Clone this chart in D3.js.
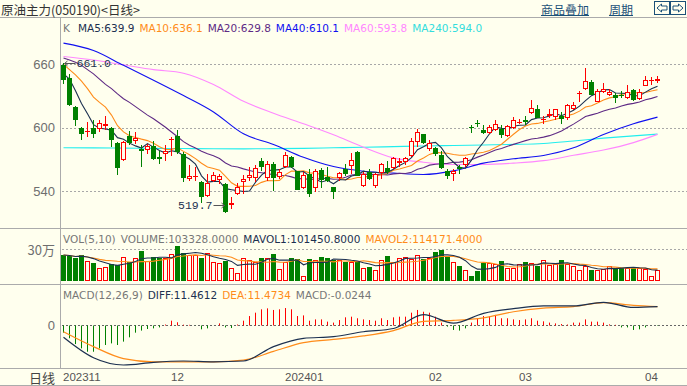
<!DOCTYPE html>
<html>
<head>
<meta charset="utf-8">
<script src="https://cdn.jsdelivr.net/npm/d3@7"></script>
<style>
  html, body { margin: 0; padding: 0; background: #FFFFEE; }
  svg { display: block; }
</style>
</head>
<body>
<svg id="chart" width="687" height="386"></svg>
<script>
// ---- data (one entry per trading day) ----
const opens  = [659,647,619.5,600,596.5,600,599,601.9,600,586, 569.8,591.8,587.7,579.5,579.2,583,572.2,574.8,588.7,591.8,
                575.4,551.8,553.3,549,535.7,550.2,550.8,547.1,526.6,537, 548.6,552.4,552.7,568.2,552.7,566,553.3,562.8,572.2,559,
                543.3,556.5,543.3,560.3,553.3,543.9,552.7,561.2,563.7,577.6, 544.8,558.7,544.8,557.5,562.2,562.2,566.6,567.5,573.8,586.4,
                594.3,580.1,580.8,574.5,559.6,556,562.8,564.4,600.9,604.7, 598.1,594.9,598.1,599,592.1,600,604.3,606.9,613.8,618,
                607.5,610.7,610,610.7,609.4,618,631.8,636.2,643.1,624.8, 633.7,631.2,631.2,630.9,628.3,635.3,627.4,639.7,644.7,644.1];
const highs  = [661,651,621,601.2,605.3,607.5,607,610.7,600.5,587, 587.6,596.8,595.6,583.9,584.8,588,578.5,584.2,591,598,
                577.6,565.3,563.4,549.3,556.5,557.8,555.9,547.7,534.4,547.7, 555.6,563.4,564.4,571.6,569.1,567.5,561.2,576.9,573.8,559.6,
                558,561.2,561.2,561.9,562.8,544.5,558.7,566,576.3,578.5, 558,560.6,557.2,566.7,569.1,572.8,571.6,572.2,590.5,599,
                594.3,588.7,581.7,578.5,561.2,561.2,564.7,572.8,603.1,606.9, 602.2,602.2,607.5,603.1,603.1,610,608.1,610.7,626.5,622,
                611.3,618,618,614.8,622.6,624.2,634.3,656.3,645.4,636.8, 642.1,636.8,632.7,634.6,640,636.8,636.8,649.4,647.8,649.4];
const lows   = [641,621,602,588.7,591,590.2,595.9,597.5,581.7,555.3, 569,584,584.8,562.8,574.8,569.7,566,569.1,573.8,575.4,
                548.6,550.2,550.2,528.8,535,548.6,547,519.7,523.5,536.4, 537,550.2,548.6,559.6,550.2,540.1,551.8,562.2,562.2,540.8,
                542.4,534.4,539.2,542.9,548.6,532.3,550.2,554,556.5,554.3, 543.9,551,542.9,551.5,556.5,561.2,563.4,564.7,572.8,582.3,
                585,578.5,573.8,561.2,551.8,550.2,556.5,563.4,594.9,601.2, 594.3,594.3,596.8,590.2,591,599,603.8,602.2,613.2,608.8,
                603.8,609.4,607.5,603.8,607.5,616.4,624.8,635.3,631,624, 632.8,630.3,623.3,628,627.4,625.2,626.5,639.1,640,642.1];
const closes = [645.4,622,607.5,594.3,597,594.3,604.7,603.8,588.7,562, 587,586.1,590.8,578.5,583,570.3,570.3,578.5,589.6,577.6,
                552.4,554.6,554,534.4,548.3,555.6,554,520.3,529.4,543.9, 551.8,555.6,562.2,563.4,566,552.7,558,574.5,563.4,541.7,
                555.6,537,559,550.8,549.5,539.2,557.2,556.5,570,554.9, 556.5,551.8,556.5,566,558.7,571.3,569.1,571.6,588,596.5,
                585.5,585.5,575.4,561.9,554.9,559.6,561.2,571.6,600,604.1, 594.9,601.2,603.8,593.4,601.9,606.9,605.7,605.3,618.9,609.4,
                608.5,613.2,617.6,608.1,621.7,622,632.7,644.1,631.2,634.6, 636.8,633.7,628.3,629.9,633.7,625.8,633.7,645.4,645.4,646.3];
const volumes = [244000,234000,212000,244000,188000,172000,125000,131000,156000,150000,
                 222000,175000,212000,281000,188000,222000,212000,212000,250000,330000,
                 266000,244000,248000,215000,258000,175000,172000,188000,125000,72000,
                 213000,194000,182000,213000,219000,253000,110000,182000,219000,206000,
                 44000,206000,194000,222000,213000,199000,194000,182000,182000,182000,
                 119000,128000,103000,200000,231000,182000,219000,228000,206000,241000,
                 206000,219000,269000,294000,238000,175000,138000,106000,44000,94000,
                 169000,169000,163000,185000,122000,119000,163000,175000,172000,138000,
                 200000,150000,156000,194000,156000,138000,100000,138000,100000,100000,
                 110000,144000,125000,125000,125000,125000,122000,110000,48000,103328];
const macdBars = [-4.8,-8.3,-11.9,-14.6,-16.7,-16.7,-14.6,-12.5,-11.5,-12.5,-10.4,-7.7,-4.8,-3.5,-2.5,-2.1,-1.5,0.3,
                  2.7,1.7,0.2,0.1,-0.2,-2.7,-2.1,-0.3,1.0,-1.5,-1.9,0.3,
                  2.7,5.6,7.7,9.8,10.4,9.4,9.8,10.6,9.8,5.6,6.0,2.7,3.5,3.5,2.1,1.5,3.1,4.8,
                  5.2,4.2,3.5,3.1,2.7,4.2,3.1,4.8,5.2,5.2,7.7,9.4,8.3,7.7,5.2,1.5,
                  -1.0,-3.1,-3.5,-2.1,1.5,4.2,5.6,5.6,6.3,4.2,4.2,3.5,3.1,3.5,4.2,2.7,2.3,1.5,1.0,0.6,0.3,1.5,1.5,3.5,2.1,2.1,1.5,0.4,0.1,
                  -1.5,-1.5,-3.1,-2.7,-1.5,-0.3,-0.0244];

// moving averages: leading values (before a full window exists)
const ma5Head  = [651,646,635,623];
const ma10Head = [660,655,650,644,637,629,624,619.5,612];
const ma20Head = [666,664,662,659,655,651,646,641,637,632,627.5,624,620,616,612,608.5,604.5,600.5,596];

// slow lines read at every 5th day
const sampleIdx    = [0,5,10,15,20,25,30,35,40,45,50,55,60,65,70,75,80,85,90,95,99];
const ma40Samples  = [680,673,659,645,630.5,615,594.3,584.2,572.2,563.4,559,557.2,555.9,559.3,566.6,570.7,573.8,581.1,593.7,603.8,610.1];
const ma60Samples  = [667.4,664,659.5,655,651.6,640.9,625,613.8,603.8,593.4,581.7,571.6,567.5,565.3,565.3,566.6,569,574,579,586,593.8];
const ma240Samples = [581.1,581,580.8,580.6,580.4,580.2,580.1,580.3,580.6,581.1,581.6,582.2,582.8,583.3,583.8,584.3,585.2,587.6,590.2,592.4,594.0];
const diffSamples  = [-7.7,-20.5,-25,-23.3,-22.5,-23,-22.5,-13.5,-8.3,-7.3,-4.2,-2.2,6.5,1.2,7.3,10.2,11.9,11.9,14.2,11.0,11.46];
const deaSamples   = [-4.2,-13.5,-21,-23,-23.1,-23.1,-22,-16.5,-11,-9,-6.8,-3.5,2.3,2.9,4.5,8.3,10.6,11.5,14,12.3,11.47];

const priceTicks  = [540, 600, 660];
const monthLabels = ['202311', '12', '202401', '02', '03', '04'];
const monthStarts = [0, 18, 37, 61, 76, 97];

const maNames  = ['MA5', 'MA10', 'MA20', 'MA40', 'MA60', 'MA240'];
const maValues = ['639.9', '636.1', '629.8', '610.1', '593.8', '594.0'];

// ---- setup ----
const W = 687, H = 386;
const N = closes.length;
const col = {
  bg: '#FFFFEE', border: '#ABABAB', grid: '#A8A8A8', axis: '#6E6E6E',
  navy: '#1C3050', orange: '#FF8C1A', purple: '#5E2A84', blue: '#1010F0',
  pink: '#FF88FF', cyan: '#22EEEE', cyanText: '#33DDDD',
  up: '#FF0000', down: '#008000', link: '#1B5078'
};
const maColors = [col.navy, col.orange, col.purple, col.blue, col.pink, col.cyanText];
const latin = '"DejaVu Sans", Verdana, sans-serif';
const cjk = '"Noto Sans CJK SC", sans-serif';

const left = 61;
const svg = d3.select('#chart');
svg.append('rect').attr('width', W).attr('height', H).attr('fill', col.bg);

const x = d3.scaleBand().domain(d3.range(N)).range([left, left + 6 * N - 1]).paddingInner(1 / 6);
const cx = i => x(i) + x.bandwidth() / 2;
const yPrice = d3.scaleLinear().domain([540, 660]).range([191.3, 64.3]);
const yVol   = d3.scaleLinear().domain([0, 300000]).range([281, 249]);
const yMacd  = d3.scaleLinear().domain([0, 10]).range([325, 309]);

const rolling = (arr, n, head) => arr.map((_, i) =>
  i < n - 1 ? (head ? head[i] : d3.mean(arr.slice(0, i + 1))) : d3.mean(arr.slice(i - n + 1, i + 1)));

const ma5  = rolling(closes, 5, ma5Head);
const ma10 = rolling(closes, 10, ma10Head);
const ma20 = rolling(closes, 20, ma20Head);
const mavol1 = rolling(volumes, 5);
const mavol2 = rolling(volumes, 10);

// ---- frame ----
const frame = svg.append('g').attr('stroke', col.border).attr('stroke-width', 1);
[17.5, 228.5, 284.5, 368.5, 385.5].forEach(yy =>
  frame.append('line').attr('x1', 0).attr('x2', W).attr('y1', yy).attr('y2', yy));
frame.append('line').attr('x1', 60.5).attr('x2', 60.5).attr('y1', 17.5).attr('y2', 368.5);

// ---- grid + axis labels ----
const grid = svg.append('g').attr('stroke', col.grid).attr('stroke-dasharray', '2,2');
priceTicks.forEach(t => {
  const yy = Math.round(yPrice(t)) + 0.5;
  grid.append('line').attr('x1', left + 1).attr('x2', W).attr('y1', yy).attr('y2', yy);
});
grid.append('line').attr('x1', left + 1).attr('x2', W)
  .attr('y1', Math.round(yVol(300000)) + 0.5).attr('y2', Math.round(yVol(300000)) + 0.5);
svg.append('line').attr('x1', left + 1).attr('x2', W)
  .attr('y1', Math.round(yMacd(0)) + 0.5).attr('y2', Math.round(yMacd(0)) + 0.5)
  .attr('stroke', '#666').attr('stroke-dasharray', '2,2');

const axisText = (txt, yy, font) => svg.append('text')
  .attr('x', 55).attr('y', yy).attr('text-anchor', 'end').attr('dominant-baseline', 'central')
  .attr('font-family', font || '"Liberation Sans", Arial, sans-serif').attr('font-size', 13)
  .attr('fill', col.axis).text(txt);
priceTicks.forEach(t => axisText(t, yPrice(t)));
axisText('30万', yVol(300000), cjk);
axisText('0', yMacd(0));

// ---- title row ----
svg.append('text').attr('x', 1).attr('y', 9.5).attr('dominant-baseline', 'central')
  .attr('font-family', cjk).attr('font-size', 12.5).attr('fill', '#333')
  .text('原油主力(050190)<日线>');

[['商品叠加', 541], ['周期', 609]].forEach(([txt, xx]) => {
  const t = svg.append('text').attr('x', xx).attr('y', 9).attr('dominant-baseline', 'central')
    .attr('font-family', cjk).attr('font-size', 12).attr('fill', col.link).text(txt);
  const w = t.node().getComputedTextLength();
  svg.append('line').attr('x1', xx).attr('x2', xx + w).attr('y1', 15.5).attr('y2', 15.5)
    .attr('stroke', col.link);
});
[[654.5, -1], [670.5, 1]].forEach(([bx, dir]) => {
  const g = svg.append('g').attr('transform', `translate(${bx},1.5)`);
  g.append('rect').attr('width', 15).attr('height', 13).attr('fill', 'none').attr('stroke', col.link);
  const pts = dir < 0
    ? [[2.5, 6.5], [7, 2.5], [7, 4.5], [12.5, 4.5], [12.5, 8.5], [7, 8.5], [7, 10.5]]
    : [[12.5, 6.5], [8, 2.5], [8, 4.5], [2.5, 4.5], [2.5, 8.5], [8, 8.5], [8, 10.5]];
  g.append('path').attr('d', 'M' + pts.join('L') + 'Z').attr('fill', 'none').attr('stroke', col.link);
});

// ---- legends ----
function legend(items, x0, yy) {
  let xx = x0;
  items.forEach(([txt, color, gap]) => {
    const t = svg.append('text').attr('x', xx).attr('y', yy).attr('dominant-baseline', 'central')
      .attr('font-family', latin).attr('font-size', 10.5).attr('fill', color).text(txt);
    xx += t.node().getComputedTextLength() + (gap == null ? 5 : gap);
  });
}
legend([['K', '#777', 8]].concat(maNames.map((n, k) => [`${n}:${maValues[k]}`, maColors[k]])), 63, 27.5);
legend([['VOL(5,10)', '#777'], ['VOLUME:103328.0000', '#777'],
        ['MAVOL1:101450.8000', col.navy], ['MAVOL2:114171.4000', col.orange]], 63, 238.5);
legend([['MACD(12,26,9)', '#777'], ['DIFF:11.4612', col.navy],
        ['DEA:11.4734', col.orange], ['MACD:-0.0244', '#777']], 63, 295);

// ---- main panel: candles + MAs ----
svg.append('clipPath').attr('id', 'clipMain')
  .append('rect').attr('x', left).attr('y', 18).attr('width', W - left).attr('height', 210);
const main = svg.append('g').attr('clip-path', 'url(#clipMain)');

const lineOf = (vals, idx, curve) => d3.line()
  .x((d, k) => cx(idx ? idx[k] : k)).y(d => yPrice(d)).curve(curve || d3.curveLinear)(vals);

const slow = [[ma240Samples, col.cyan], [ma60Samples, col.pink], [ma40Samples, col.blue]];
slow.forEach(([vals, c]) => main.append('path').attr('d', lineOf(vals, sampleIdx, d3.curveMonotoneX))
  .attr('fill', 'none').attr('stroke', c).attr('stroke-width', 1.1));
[[ma20, col.purple], [ma10, col.orange], [ma5, col.navy]].forEach(([vals, c]) =>
  main.append('path').attr('d', lineOf(vals)).attr('fill', 'none').attr('stroke', c).attr('stroke-width', 1.1));

function drawBar(g, i, top, bottom, up, wickTop, wickBottom) {
  const c = up ? col.up : col.down;
  const xc = Math.floor(cx(i)) + 0.5;
  const t = Math.round(top), b = Math.round(bottom);
  if (wickTop != null) {
    g.append('line').attr('x1', xc).attr('x2', xc).attr('y1', Math.round(wickTop)).attr('y2', t).attr('stroke', c);
    g.append('line').attr('x1', xc).attr('x2', xc).attr('y1', b).attr('y2', Math.round(wickBottom)).attr('stroke', c);
  }
  if (b - t <= 1) {
    g.append('rect').attr('x', x(i)).attr('y', t).attr('width', x.bandwidth()).attr('height', 1).attr('fill', c);
  } else if (up) {
    g.append('rect').attr('x', x(i) + 0.5).attr('y', t + 0.5).attr('width', x.bandwidth() - 1)
      .attr('height', b - t - 1).attr('fill', col.bg).attr('stroke', c);
  } else {
    g.append('rect').attr('x', x(i)).attr('y', t).attr('width', x.bandwidth()).attr('height', b - t).attr('fill', c);
  }
}

const candles = main.append('g');
d3.range(N).forEach(i => {
  const up = closes[i] >= opens[i];
  drawBar(candles, i, yPrice(Math.max(opens[i], closes[i])), yPrice(Math.min(opens[i], closes[i])),
          up, yPrice(highs[i]), yPrice(lows[i]));
});

// high / low markers
const hi = d3.maxIndex(highs), lo = d3.minIndex(lows);
const mark = svg.append('g').attr('font-family', '"Liberation Mono", monospace').attr('font-size', 11.5);
{
  const yy = Math.round(yPrice(highs[hi])) + 0.5, x0 = cx(hi) + 1;
  mark.append('path').attr('d', `M${x0 + 11},${yy}H${x0}M${x0 + 3},${yy - 2.5}L${x0},${yy}L${x0 + 3},${yy + 2.5}`)
    .attr('stroke', '#555').attr('fill', 'none');
  mark.append('text').attr('x', x0 + 12).attr('y', yy).attr('dominant-baseline', 'central')
    .attr('fill', col.navy).text(highs[hi].toFixed(1));
}
{
  const yy = Math.round(yPrice(lows[lo]) - 8) + 0.5, x1 = cx(lo) - 1;
  mark.append('path').attr('d', `M${x1 - 11},${yy}H${x1}M${x1 - 3},${yy - 2.5}L${x1},${yy}L${x1 - 3},${yy + 2.5}`)
    .attr('stroke', '#555').attr('fill', 'none');
  mark.append('text').attr('x', x1 - 12).attr('y', yy).attr('dominant-baseline', 'central')
    .attr('text-anchor', 'end').attr('fill', col.navy).text(lows[lo].toFixed(1));
}

// ---- volume panel ----
const vol = svg.append('g');
d3.range(N).forEach(i => drawBar(vol, i, yVol(volumes[i]), yVol(0), closes[i] >= opens[i]));
[[mavol2, col.orange], [mavol1, col.navy]].forEach(([vals, c]) =>
  vol.append('path').attr('d', d3.line().x((d, k) => cx(k)).y(d => yVol(d))(vals))
    .attr('fill', 'none').attr('stroke', c).attr('stroke-width', 1.1));

// ---- MACD panel ----
const macd = svg.append('g');
macdBars.forEach((v, i) => {
  const xc = Math.floor(cx(i)) + 0.5;
  macd.append('line').attr('x1', xc).attr('x2', xc)
    .attr('y1', Math.round(yMacd(0)) + 0.5).attr('y2', yMacd(v))
    .attr('stroke', v >= 0 ? col.up : col.down);
});
[[deaSamples, col.orange], [diffSamples, col.navy]].forEach(([vals, c]) =>
  macd.append('path')
    .attr('d', d3.line().x((d, k) => cx(sampleIdx[k])).y(d => yMacd(d)).curve(d3.curveMonotoneX)(vals))
    .attr('fill', 'none').attr('stroke', c).attr('stroke-width', 1.2));

// ---- date row ----
svg.append('text').attr('x', 55).attr('y', 377).attr('text-anchor', 'end').attr('dominant-baseline', 'central')
  .attr('font-family', cjk).attr('font-size', 13).attr('fill', '#444').text('日线');
monthLabels.forEach((m, k) => svg.append('text')
  .attr('x', x(monthStarts[k]) + 2).attr('y', 377).attr('dominant-baseline', 'central')
  .attr('font-family', '"Liberation Sans", Arial, sans-serif').attr('font-size', 11.5)
  .attr('fill', '#555').text(m));
</script>
</body>
</html>
